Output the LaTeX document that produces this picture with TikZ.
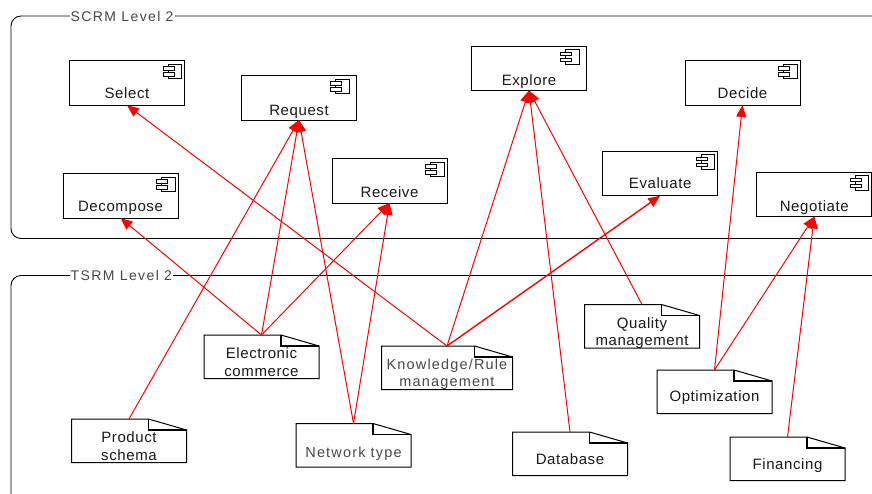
\documentclass[tikz,border=0pt]{standalone}
\usepackage{fontspec}
\setmainfont{Liberation Sans}
\newfontfamily\lsa[LetterSpace=4]{Liberation Sans}
\newfontfamily\lsb[LetterSpace=8]{Liberation Sans}
\newfontfamily\lsc[LetterSpace=10]{Liberation Sans}
\usetikzlibrary{arrows.meta}
\definecolor{ink}{HTML}{1A1A1A}
\definecolor{softink}{HTML}{484848}
\tikzset{
  txt/.style={inner sep=0pt,font=\lsa\fontsize{15}{15}\selectfont,text=ink,anchor=base},
  softtxt/.style={inner sep=0pt,font=\lsb\fontsize{14.5}{15}\selectfont,text=softink,anchor=base},
  grouplabel/.style={inner sep=1pt,fill=white,anchor=west,font=\lsc\fontsize{14}{15}\selectfont,text=softink},
  groupbox/.style={draw=black,line width=.9pt,rounded corners=10pt},
  comp/.style={draw=black,line width=1pt,fill=white,rectangle,minimum width=115pt,minimum height=44.5pt,inner sep=0pt,outer sep=0pt,anchor=north west},
  notebase/.style={rectangle,minimum width=#1,minimum height=43.5pt,inner sep=0pt,outer sep=0pt,anchor=north west},
  notebase/.default=115pt,
  noteline/.style={draw=black,line width=1pt,fill=white,line join=miter},
  fold/.style={draw=black,line width=1.4pt},
  link/.style={draw=red,line width=1pt,-{Triangle[length=12pt,width=10pt,fill=red]}},
}
% [icon inset], name, x, y, text baseline y, text
\newcommand{\compbox}[6][0]{%
  \node[comp] (#2) at (#3,#4) {};
  \begin{scope}[shift={([xshift=-#1pt]#2.north east)}]
  \draw[line width=.9pt,black] (-16.5,3.5) rectangle (-3,18);
  \draw[line width=.9pt,black,fill=white] (-21.5,6) rectangle (-10.5,9.5);
  \draw[line width=.9pt,black,fill=white] (-21.5,12) rectangle (-10.5,15.5);
  \end{scope}
  \node[txt] (#2text) at (#3+57.5,#5) {#6};
}
% name, x, y, width
\newcommand{\notebox}[4]{%
  \node[notebase=#4pt] (#1) at (#2,#3) {};
  \draw[noteline] (#1.north west) -- ([xshift=-38pt]#1.north east) -- ([yshift=-11pt]#1.north east) -- (#1.south east) -- (#1.south west) -- cycle;
  \draw[fold] ([xshift=-38pt]#1.north east) -- ([xshift=-38pt,yshift=-11pt]#1.north east) -- ([yshift=-11pt]#1.north east);
}
\begin{document}
\begin{tikzpicture}[x=1pt,y=-1pt]
\useasboundingbox (0,0) rectangle (872,493);
\clip (0,0) rectangle (872,493);
\fill[white] (0,0) rectangle (872,493);
% groups
\draw[groupbox] (11,16) rectangle (900,238.5);
\draw[groupbox] (11,275.5) rectangle (900,530);
\node[grouplabel] (scrm) at (69.5,16) {SCRM Level 2};
\node[grouplabel] (tsrm) at (69.5,275.5) {TSRM Level 2};
% components
\compbox{select}{69.5}{60.8}{98.5}{Select}
\compbox{decompose}{63}{173.5}{211}{Decompose}
\compbox[4.5]{request}{241.5}{75.5}{115.5}{Request}
\compbox{receive}{332}{158.5}{197.5}{Receive}
\compbox[4.5]{explore}{471.5}{46}{85.5}{Explore}
\compbox{evaluate}{602.7}{151.2}{188}{Evaluate}
\compbox{decide}{685}{60.5}{98.5}{Decide}
\compbox{negotiate}{756.8}{172}{211.5}{Negotiate}
% notes
\notebox{ecom}{204}{335}{115}
\node[txt] (ecomA) at (261.5,358) {Electronic};
\node[txt] (ecomB) at (261.5,376) {commerce};
\notebox{schema}{71.5}{419}{115}
\node[txt] (schemaA) at (129,442) {Product};
\node[txt] (schemaB) at (129,460) {schema};
\notebox{network}{296}{423.5}{115}
\node[softtxt] (networkA) at (353.5,457) {Network type};
\notebox{knowledge}{381.5}{346}{131}
\node[softtxt] (knowledgeA) at (447,369) {Knowledge/Rule};
\node[softtxt] (knowledgeB) at (447,386) {management};
\notebox{database}{512.5}{432}{115}
\node[txt] (databaseA) at (570,464) {Database};
\notebox{quality}{584.5}{304.5}{115}
\node[txt] (qualityA) at (642,328) {Quality};
\node[txt] (qualityB) at (642,345) {management};
\notebox{optimization}{657}{370}{115}
\node[txt] (optimizationA) at (714.5,401) {Optimization};
\notebox{financing}{730}{437}{115}
\node[txt] (financingA) at (787.5,469) {Financing};
% links
\draw[link] (knowledge.north) -- (select.south);
\draw[link] (ecom.north) -- (decompose.south);
\draw[link] (schema.north) -- (request.south);
\draw[link] (ecom.north) -- (request.south);
\draw[link] (network.north) -- (request.south);
\draw[link] (ecom.north) -- (receive.south);
\draw[link] (network.north) -- (receive.south);
\draw[link] (knowledge.north) -- (explore.south);
\draw[link] (database.north) -- (explore.south);
\draw[link] (quality.north) -- (explore.south);
\draw[link,line width=1.4pt] (knowledge.north) -- (evaluate.south);
\draw[link] (optimization.north) -- (decide.south);
\draw[link] (optimization.north) -- (negotiate.south);
\draw[link] (financing.north) -- (negotiate.south);
\end{tikzpicture}
\end{document}
